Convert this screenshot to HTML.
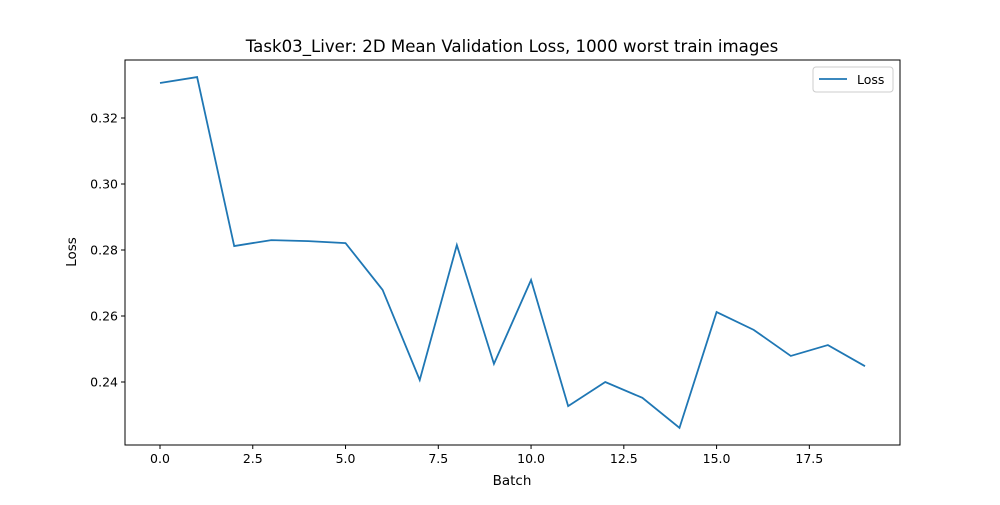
<!DOCTYPE html>
<html><head><meta charset="utf-8"><style>
body{margin:0;background:#fff;}
svg text{font-family:"DejaVu Sans","Liberation Sans",sans-serif;fill:#000;}
</style></head><body>
<svg id="chart" width="1000" height="500">
<rect width="1000" height="500" fill="#fff"/>
<text x="512" y="52" font-size="16.6" text-anchor="middle">Task03_Liver: 2D Mean Validation Loss, 1000 worst train images</text>
<g id="axes"></g>
<text x="512" y="485" font-size="13.5" text-anchor="middle">Batch</text>
<text x="76" y="252" font-size="13.5" text-anchor="middle" transform="rotate(-90 76 252)">Loss</text>
</svg>
<script>
const batches=[0,1,2,3,4,5,6,7,8,9,10,11,12,13,14,15,16,17,18,19];
const lossValues=[0.3306,0.3324,0.2812,0.2830,0.2827,0.2821,0.2679,0.2406,0.2815,0.2455,0.2709,0.2327,0.2400,0.2352,0.2261,0.2612,0.2558,0.2479,0.2512,0.2448];
const xTicks=[0,2.5,5,7.5,10,12.5,15,17.5];
const yTicks=[0.24,0.26,0.28,0.30,0.32];
const NS="http://www.w3.org/2000/svg";
const L=125,R=900,T=60,B=445;
const xs=v=>160+v*(865-160)/19;
const ys=v=>118+(0.32-v)*3300;
const g=document.getElementById('axes');
function mk(t,a){const e=document.createElementNS(NS,t);for(const k in a)e.setAttribute(k,a[k]);g.appendChild(e);return e;}
xTicks.forEach(v=>{
 const x=xs(v);
 const t=mk('line',{x1:x,x2:x,y1:B,y2:B+4,stroke:'#000'});
 
 
 const tx=mk('text',{x:x,y:B+18,'font-size':12.5,'text-anchor':'middle'});tx.textContent=v.toFixed(1);
 
 
});
yTicks.forEach(v=>{
 const y=ys(v);
 const t=mk('line',{x1:L-4,x2:L,y1:y,y2:y,stroke:'#000'});
 
 
 const tx=mk('text',{x:L-7,y:y+4.5,'font-size':12.5,'text-anchor':'end'});tx.textContent=v.toFixed(2);
 
 
});
const pl=mk('polyline',{points:batches.map((b,i)=>xs(b)+','+ys(lossValues[i])).join(' '),fill:'none',stroke:'#1f77b4','stroke-width':1.8});


const fr=mk('rect',{x:L,y:T,width:R-L,height:B-T,fill:'none',stroke:'#000','stroke-width':1});


const lg=mk('rect',{x:813,y:67,width:80,height:25,rx:3,fill:'#fff',stroke:'#ccc'});


const ll=mk('line',{x1:819,x2:847,y1:79,y2:79,stroke:'#1f77b4','stroke-width':1.8});


const lt=mk('text',{x:857,y:84,'font-size':12.5});lt.textContent='Loss';


</script>
</body></html>
